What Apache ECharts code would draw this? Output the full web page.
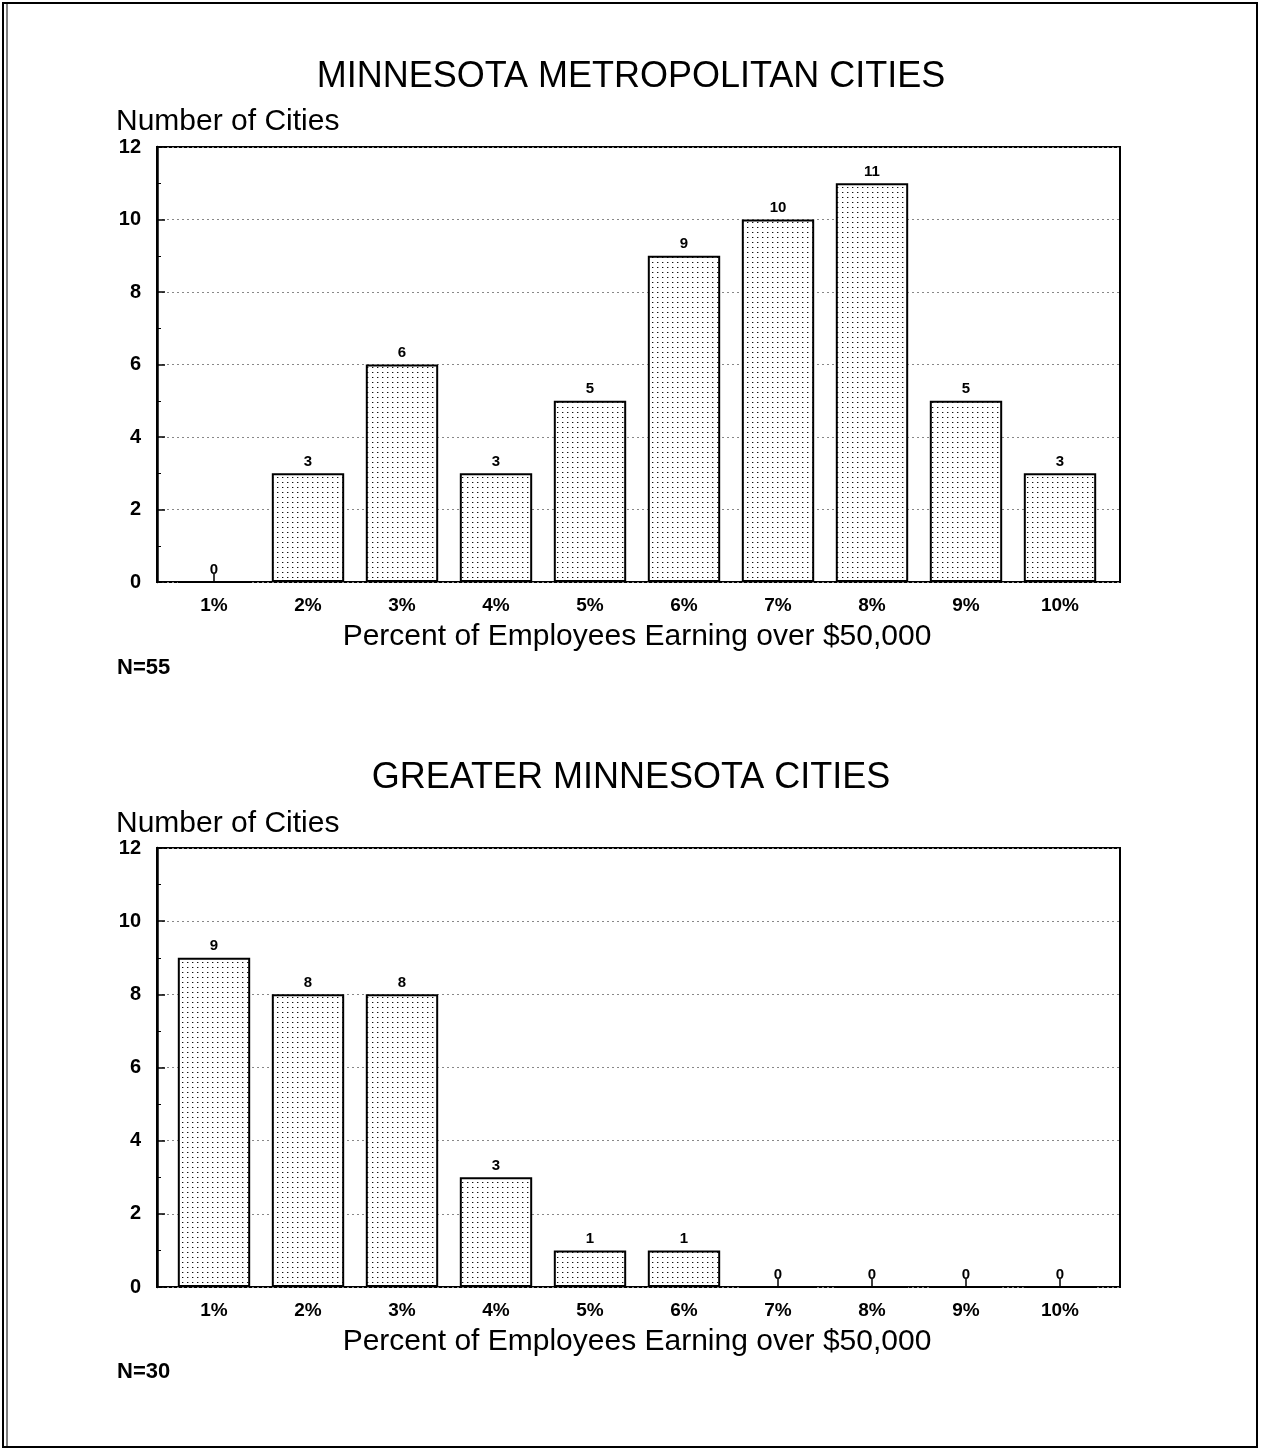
<!DOCTYPE html>
<html><head><meta charset="utf-8">
<script src="https://cdn.jsdelivr.net/npm/echarts@6/dist/echarts.min.js"></script>
<style>html,body{margin:0;padding:0;background:#fff}#c{width:1262px;height:1452px}</style>
</head><body><div id="c"></div>
<script>
const categories = ['1%','2%','3%','4%','5%','6%','7%','8%','9%','10%'];
const metroValues = [0,3,6,3,5,9,10,11,5,3];
const greaterValues = [9,8,8,3,1,1,0,0,0,0];
const metroTitle = 'MINNESOTA METROPOLITAN CITIES';
const greaterTitle = 'GREATER MINNESOTA CITIES';
const yName = 'Number of Cities';
const xName = 'Percent of Employees Earning over $50,000';
const metroN = 'N=55';
const greaterN = 'N=30';

const FONT = '"Liberation Sans", Arial, Helvetica, sans-serif';

function makePattern(){
  const c = document.createElement('canvas');
  c.width = 5; c.height = 5;
  const g = c.getContext('2d');
  g.fillStyle = '#ffffff'; g.fillRect(0,0,5,5);
  g.fillStyle = '#111111'; g.fillRect(2,2,1,1);
  g.fillStyle = '#aaaaaa'; g.fillRect(3,2,1,1);
  return c;
}
const pattern = {image: makePattern(), repeat: 'repeat'};

const charts = [
  {top:147, height:435, values: metroValues},
  {top:848, height:439, values: greaterValues}
];

const grids = [], xAxes = [], yAxes = [], series = [];
charts.forEach((ch, i) => {
  grids.push({left:157, width:963, top:ch.top, height:ch.height, show:true, borderColor:'#000', borderWidth:2, backgroundColor:'transparent'});
  grids.push({left:167, width:940, top:ch.top, height:ch.height});
  const gf = i*2, gb = i*2+1;
  xAxes.push({gridIndex:gf, type:'value', min:0, max:1, show:false});
  yAxes.push({gridIndex:gf, type:'value', min:0, max:12, interval:2,
    axisLine:{show:true, lineStyle:{color:'#000', width:2.5}},
    axisTick:{show:true, inside:true, length:8, lineStyle:{color:'#000', width:1.5}},
    minorTick:{show:true, splitNumber:2, length:4, lineStyle:{color:'#000', width:1}},
    axisLabel:{color:'#000', fontFamily:FONT, fontWeight:'bold', fontSize:20, margin:16},
    splitLine:{show:true, lineStyle:{color:'#888', type:[2,3], width:1}}
  });
  xAxes.push({gridIndex:gb, type:'category', data:categories,
    axisLine:{show:false},
    axisTick:{show:true, inside:true, alignWithLabel:true, length:8, lineStyle:{color:'#000', width:1.5}},
    axisLabel:{color:'#000', fontFamily:FONT, fontWeight:'bold', fontSize:19, margin:14},
    name:xName, nameLocation:'middle', nameGap:40,
    nameTextStyle:{color:'#000', fontFamily:FONT, fontSize:30, padding:[0,0,0,0]}
  });
  yAxes.push({gridIndex:gb, type:'value', min:0, max:12, show:false});
  series.push({type:'bar', xAxisIndex:i*2+1, yAxisIndex:i*2+1, data:ch.values,
    barCategoryGap:'23%',
    itemStyle:{color:pattern, borderColor:'#000', borderWidth:2},
    label:{show:true, position:'top', distance:4, color:'#000', fontFamily:FONT, fontWeight:'bold', fontSize:15},
    z:3
  });
});

const titles = [
  {text:metroTitle, left:'center', top:59, textStyle:{fontFamily:FONT, fontSize:36, fontWeight:'normal', color:'#000'}},
  {text:yName, left:116, top:107, textStyle:{fontFamily:FONT, fontSize:30, fontWeight:'normal', color:'#000'}},
  {text:metroN, left:117, top:657, textStyle:{fontFamily:FONT, fontSize:22, fontWeight:'bold', color:'#000'}},
  {text:greaterTitle, left:'center', top:760, textStyle:{fontFamily:FONT, fontSize:36, fontWeight:'normal', color:'#000'}},
  {text:yName, left:116, top:809, textStyle:{fontFamily:FONT, fontSize:30, fontWeight:'normal', color:'#000'}},
  {text:greaterN, left:117, top:1361, textStyle:{fontFamily:FONT, fontSize:22, fontWeight:'bold', color:'#000'}}
].map(t => Object.assign({padding:0, itemGap:0}, t));

const chart = echarts.init(document.getElementById('c'), null, {renderer:'canvas'});
chart.setOption({
  animation:false,
  backgroundColor:'#fff',
  title: titles,
  grid: grids,
  xAxis: xAxes,
  yAxis: yAxes,
  series: series,
  graphic: [
    {type:'rect', shape:{x:3, y:3, width:1254, height:1444}, style:{fill:'none', stroke:'#000', lineWidth:2}, silent:true},
    {type:'line', shape:{x1:7, y1:3, x2:7, y2:1447}, style:{stroke:'#000', lineWidth:1}, silent:true}
  ]
});
</script></body></html>
